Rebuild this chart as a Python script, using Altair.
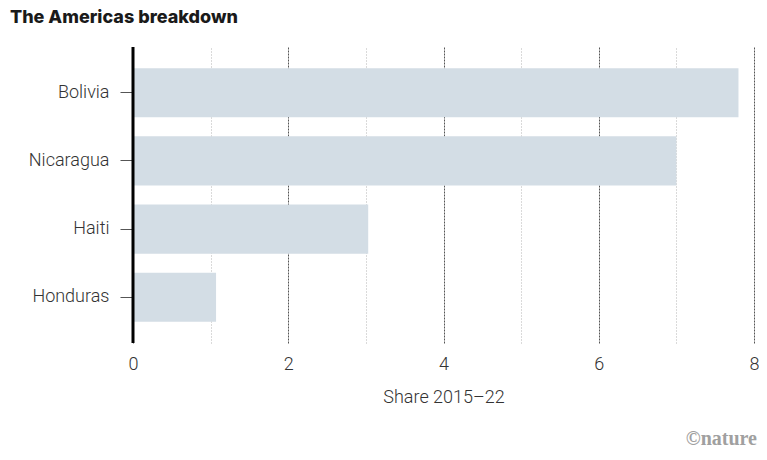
import altair as alt
import pandas as pd

countries = ["Bolivia", "Nicaragua", "Haiti", "Honduras"]
shares = [7.8, 7.0, 3.03, 1.07]
tick_values = [0, 1, 2, 3, 4, 5, 6, 7, 8]

df = pd.DataFrame({"country": countries, "share": shares})

FONT = "Roboto"
LABEL_WEIGHT = 300

x_enc = alt.X(
    "share:Q",
    scale=alt.Scale(domain=[0, 8], nice=False),
    axis=alt.Axis(
        values=tick_values,
        format="d",
        labelExpr="datum.value % 2 === 0 ? datum.label : ''",
        labelFlush=False,
        title="Share 2015–22",
        domain=False,
        ticks=False,
        grid=True,
        gridColor={"condition": {"test": "datum.value % 2 === 0", "value": "#555555"}, "value": "#b5b5b5"},
        gridDash={"condition": {"test": "datum.value % 2 === 0", "value": [2, 1]}, "value": [1, 2]},
        gridWidth=1,
        labelFont=FONT,
        labelFontSize=18,
        labelFontWeight=LABEL_WEIGHT,
        labelColor="#333333",
        labelPadding=12,
        titleFont=FONT,
        titleFontSize=18,
        titleFontWeight=LABEL_WEIGHT,
        titleColor="#333333",
        titlePadding=15,
    ),
)

y_enc = alt.Y(
    "country:N",
    sort=countries,
    scale=alt.Scale(paddingInner=0.28, paddingOuter=0.31),
    axis=alt.Axis(
        title=None,
        domain=False,
        ticks=True,
        tickSize=13,
        tickColor="#555555",
        tickWidth=1,
        labelFont=FONT,
        labelFontSize=18,
        labelFontWeight=LABEL_WEIGHT,
        labelColor="#333333",
        labelPadding=11,
    ),
)

bars = alt.Chart(df).mark_bar(color="#d3dde5").encode(x=x_enc, y=y_enc)

zero_line = alt.Chart(pd.DataFrame({"v": [0]})).mark_rule(color="#000000", strokeWidth=3).encode(
    x=alt.X("v:Q")
)

logo = alt.Chart(pd.DataFrame({"t": ["©nature"]})).mark_text(
    align="right", baseline="alphabetic", font="serif", fontWeight="bold",
    fontSize=20, color="#a0a0a0"
).encode(text="t:N", x=alt.value(624), y=alt.value(398))

chart = alt.layer(bars, zero_line, logo).properties(
    width=621,
    height=296,
    padding={"left": 125, "top": 39, "right": 5, "bottom": 105},
    autosize=alt.AutoSizeParams(type="none"),
    title=alt.TitleParams(
        "The Americas breakdown",
        anchor="start",
        frame="group",
        dx=-123,
        offset=5,
        baseline="alphabetic",
        font="Inter",
        fontSize=18,
        fontWeight=800,
        color="#1a1a1a",
    ),
).configure_view(stroke=None)

chart.save("out.html", embed_options={"renderer": "svg", "actions": False})
